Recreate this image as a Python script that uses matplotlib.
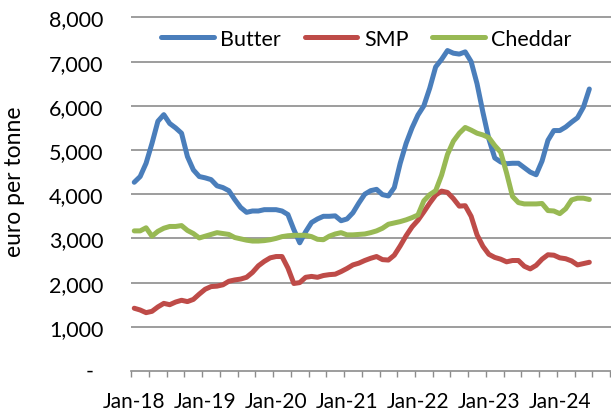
import matplotlib
matplotlib.use("Agg")
import matplotlib.pyplot as plt
import numpy as np
import pandas as pd
from matplotlib.ticker import FixedLocator, NullFormatter

plt.rcParams['font.family'] = ['Lato', 'DejaVu Sans']

# Monthly EU wholesale prices, euro per tonne, Jan-2018 to Jun-2024
months = pd.date_range("2018-01-01", periods=78, freq="MS")

butter = [
    4270, 4400, 4700, 5150, 5650, 5800, 5600, 5500, 5380, 4850, 4550, 4400,
    4370, 4330, 4190, 4150, 4080, 3880, 3700, 3590, 3620, 3620, 3650, 3650,
    3650, 3620, 3540, 3200, 2900, 3150, 3360, 3440, 3500, 3500, 3510, 3400,
    3440, 3580, 3800, 4000, 4080, 4110, 3990, 3960, 4150, 4700, 5150, 5500,
    5790, 6000, 6400, 6880, 7050, 7250, 7190, 7170, 7220, 7000, 6500, 5850,
    5250, 4820, 4730, 4690, 4700, 4700, 4600, 4500, 4440, 4750, 5220, 5440,
    5440, 5520, 5630, 5730, 5970, 6380,
]

smp = [
    1420, 1380, 1320, 1350, 1450, 1530, 1500, 1560, 1600, 1570, 1620, 1740,
    1850, 1910, 1920, 1950, 2030, 2060, 2080, 2120, 2230, 2380, 2480, 2560,
    2590, 2590, 2330, 1980, 2000, 2120, 2140, 2120, 2160, 2180, 2190, 2250,
    2320, 2400, 2440, 2500, 2550, 2590, 2520, 2510, 2620, 2830, 3060, 3260,
    3410, 3600, 3800, 3980, 4070, 4040, 3900, 3730, 3740, 3500, 3080, 2820,
    2640, 2570, 2530, 2470, 2500, 2500, 2370, 2310, 2390, 2530, 2630, 2620,
    2560, 2540, 2490, 2400, 2430, 2460,
]

cheddar = [
    3170, 3170, 3240, 3050, 3160, 3230, 3270, 3270, 3290, 3180, 3110, 3010,
    3050, 3090, 3130, 3110, 3090, 3020, 2990, 2960, 2940, 2940, 2950, 2970,
    3000, 3040, 3060, 3070, 3070, 3070, 3040, 2980, 2970, 3050, 3100, 3130,
    3080, 3080, 3090, 3100, 3130, 3170, 3230, 3320, 3350, 3380, 3420, 3470,
    3530, 3850, 3990, 4080, 4430, 4900, 5200, 5380, 5510, 5450, 5380, 5340,
    5280, 5100, 4950, 4480, 3950, 3810, 3780, 3780, 3780, 3790, 3630, 3620,
    3560, 3670, 3870, 3910, 3910, 3880,
]

series_names = ["Butter", "SMP", "Cheddar"]
series_colors = ["#4A7EBB", "#BE4B48", "#98B954"]

x_labels = ["Jan-18", "Jan-19", "Jan-20", "Jan-21", "Jan-22", "Jan-23", "Jan-24"]
y_ticks = [0, 1000, 2000, 3000, 4000, 5000, 6000, 7000, 8000]

W, H = 611, 414
fig = plt.figure(figsize=(W / 100, H / 100), dpi=100)

n_slots = 84          # category slots on the axis (axis runs past the right edge)
slot_px = 5.91
y_top = 8040
px_per_unit = 44.2 / 1000
left_px, bottom_px = 131.3, 42.0
ax_w_px = n_slots * slot_px
ax = fig.add_axes([left_px / W, bottom_px / H,
                   ax_w_px / W, y_top * px_per_unit / H])

pos = np.arange(len(months)) + 0.5
for vals, name, col in zip([butter, smp, cheddar], series_names, series_colors):
    ax.plot(pos, vals, color=col, lw=3.6, label=name,
            solid_joinstyle="round", solid_capstyle="round", zorder=3)

ax.set_xlim(0, n_slots)
ax.set_ylim(0, y_top)

grid_col = "#8C8C8C"
for v in y_ticks[1:]:
    ax.axhline(v, color=grid_col, lw=1.2, zorder=1)

for s in ["top", "right", "left"]:
    ax.spines[s].set_visible(False)
ax.spines["bottom"].set_color(grid_col)
ax.spines["bottom"].set_linewidth(1.2)

# y axis labels
ax.set_yticks(y_ticks)
ax.set_yticklabels([""] + [f"{v:,}" for v in y_ticks[1:]])
ax.tick_params(axis="y", length=0, pad=20, labelsize=15.5, labelcolor="black")
ax.annotate("-", xy=(0, 0), xycoords=("axes fraction", "data"),
            xytext=(-42, 0), textcoords="offset pixels",
            ha="center", va="center", fontsize=15.5, color="black")

# x axis: labels on every 12th month, tick marks every quarter
label_pos = [pos[i] for i in range(0, len(months), 12)]
ax.xaxis.set_major_locator(FixedLocator(label_pos))
ax.set_xticklabels(x_labels)
ax.xaxis.set_minor_locator(FixedLocator(np.arange(0, n_slots + 1, 3)))
ax.xaxis.set_minor_formatter(NullFormatter())
ax.tick_params(axis="x", which="major", length=0, pad=14.5, labelsize=15,
               labelcolor="black")
ax.tick_params(axis="x", which="minor", length=4.5, width=1.0, color=grid_col,
               direction="out")

ax.set_ylabel("euro per tonne", fontsize=16.5, color="black")
ax.yaxis.set_label_coords((25 - left_px) / ax_w_px, 0.536)

leg = fig.legend(loc="center left", bbox_to_anchor=(161 / W, 1 - 39.5 / H),
                 ncol=3, frameon=False, fontsize=15.5, handlelength=2.45,
                 handletextpad=0.3, columnspacing=1.1, borderpad=0,
                 borderaxespad=0)
for h in leg.get_lines():
    h.set_solid_capstyle("round")

fig.savefig("out.png", dpi=100)
